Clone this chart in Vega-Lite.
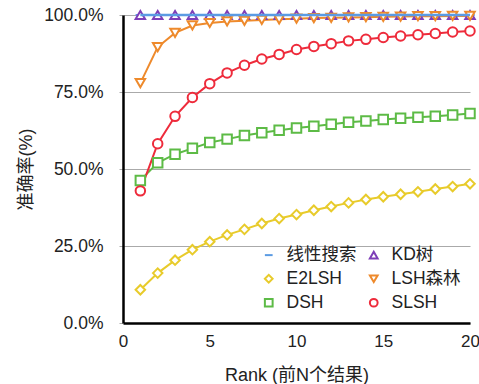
{
  "$schema": "https://vega.github.io/schema/vega-lite/v6.json",
  "width": 347,
  "height": 308,
  "autosize": {"type": "none"},
  "padding": {"left": 123, "top": 15, "right": 9, "bottom": 61},
  "background": "white",
  "config": {
    "font": "Liberation Sans, Noto Sans CJK SC",
    "view": {"stroke": null}
  },
  "data": {
    "values": [
      {"r": 1, "m": "线性搜索", "v": 1.0}, {"r": 2, "m": "线性搜索", "v": 1.0}, {"r": 3, "m": "线性搜索", "v": 1.0}, {"r": 4, "m": "线性搜索", "v": 1.0}, {"r": 5, "m": "线性搜索", "v": 1.0},
      {"r": 6, "m": "线性搜索", "v": 1.0}, {"r": 7, "m": "线性搜索", "v": 1.0}, {"r": 8, "m": "线性搜索", "v": 1.0}, {"r": 9, "m": "线性搜索", "v": 1.0}, {"r": 10, "m": "线性搜索", "v": 1.0},
      {"r": 11, "m": "线性搜索", "v": 1.0}, {"r": 12, "m": "线性搜索", "v": 1.0}, {"r": 13, "m": "线性搜索", "v": 1.0}, {"r": 14, "m": "线性搜索", "v": 1.0}, {"r": 15, "m": "线性搜索", "v": 1.0},
      {"r": 16, "m": "线性搜索", "v": 1.0}, {"r": 17, "m": "线性搜索", "v": 1.0}, {"r": 18, "m": "线性搜索", "v": 1.0}, {"r": 19, "m": "线性搜索", "v": 1.0}, {"r": 20, "m": "线性搜索", "v": 1.0},

      {"r": 1, "m": "KD树", "v": 1.0}, {"r": 2, "m": "KD树", "v": 1.0}, {"r": 3, "m": "KD树", "v": 1.0}, {"r": 4, "m": "KD树", "v": 1.0}, {"r": 5, "m": "KD树", "v": 1.0},
      {"r": 6, "m": "KD树", "v": 1.0}, {"r": 7, "m": "KD树", "v": 1.0}, {"r": 8, "m": "KD树", "v": 1.0}, {"r": 9, "m": "KD树", "v": 1.0}, {"r": 10, "m": "KD树", "v": 1.0},
      {"r": 11, "m": "KD树", "v": 1.0}, {"r": 12, "m": "KD树", "v": 1.0}, {"r": 13, "m": "KD树", "v": 1.0}, {"r": 14, "m": "KD树", "v": 1.0}, {"r": 15, "m": "KD树", "v": 1.0},
      {"r": 16, "m": "KD树", "v": 1.0}, {"r": 17, "m": "KD树", "v": 1.0}, {"r": 18, "m": "KD树", "v": 1.0}, {"r": 19, "m": "KD树", "v": 1.0}, {"r": 20, "m": "KD树", "v": 1.0},

      {"r": 1, "m": "E2LSH", "v": 0.108}, {"r": 2, "m": "E2LSH", "v": 0.162}, {"r": 3, "m": "E2LSH", "v": 0.204}, {"r": 4, "m": "E2LSH", "v": 0.238}, {"r": 5, "m": "E2LSH", "v": 0.264},
      {"r": 6, "m": "E2LSH", "v": 0.286}, {"r": 7, "m": "E2LSH", "v": 0.304}, {"r": 8, "m": "E2LSH", "v": 0.323}, {"r": 9, "m": "E2LSH", "v": 0.339}, {"r": 10, "m": "E2LSH", "v": 0.352},
      {"r": 11, "m": "E2LSH", "v": 0.366}, {"r": 12, "m": "E2LSH", "v": 0.378}, {"r": 13, "m": "E2LSH", "v": 0.390}, {"r": 14, "m": "E2LSH", "v": 0.401}, {"r": 15, "m": "E2LSH", "v": 0.410},
      {"r": 16, "m": "E2LSH", "v": 0.418}, {"r": 17, "m": "E2LSH", "v": 0.426}, {"r": 18, "m": "E2LSH", "v": 0.435}, {"r": 19, "m": "E2LSH", "v": 0.443}, {"r": 20, "m": "E2LSH", "v": 0.452},

      {"r": 1, "m": "LSH森林", "v": 0.779}, {"r": 2, "m": "LSH森林", "v": 0.896}, {"r": 3, "m": "LSH森林", "v": 0.942}, {"r": 4, "m": "LSH森林", "v": 0.966}, {"r": 5, "m": "LSH森林", "v": 0.974},
      {"r": 6, "m": "LSH森林", "v": 0.979}, {"r": 7, "m": "LSH森林", "v": 0.981}, {"r": 8, "m": "LSH森林", "v": 0.984}, {"r": 9, "m": "LSH森林", "v": 0.986}, {"r": 10, "m": "LSH森林", "v": 0.988},
      {"r": 11, "m": "LSH森林", "v": 0.990}, {"r": 12, "m": "LSH森林", "v": 0.991}, {"r": 13, "m": "LSH森林", "v": 0.992}, {"r": 14, "m": "LSH森林", "v": 0.993}, {"r": 15, "m": "LSH森林", "v": 0.994},
      {"r": 16, "m": "LSH森林", "v": 0.995}, {"r": 17, "m": "LSH森林", "v": 0.996}, {"r": 18, "m": "LSH森林", "v": 0.996}, {"r": 19, "m": "LSH森林", "v": 0.997}, {"r": 20, "m": "LSH森林", "v": 0.997},

      {"r": 1, "m": "DSH", "v": 0.463}, {"r": 2, "m": "DSH", "v": 0.520}, {"r": 3, "m": "DSH", "v": 0.548}, {"r": 4, "m": "DSH", "v": 0.567}, {"r": 5, "m": "DSH", "v": 0.586},
      {"r": 6, "m": "DSH", "v": 0.597}, {"r": 7, "m": "DSH", "v": 0.609}, {"r": 8, "m": "DSH", "v": 0.618}, {"r": 9, "m": "DSH", "v": 0.626}, {"r": 10, "m": "DSH", "v": 0.633},
      {"r": 11, "m": "DSH", "v": 0.639}, {"r": 12, "m": "DSH", "v": 0.645}, {"r": 13, "m": "DSH", "v": 0.652}, {"r": 14, "m": "DSH", "v": 0.656}, {"r": 15, "m": "DSH", "v": 0.661},
      {"r": 16, "m": "DSH", "v": 0.665}, {"r": 17, "m": "DSH", "v": 0.668}, {"r": 18, "m": "DSH", "v": 0.671}, {"r": 19, "m": "DSH", "v": 0.675}, {"r": 20, "m": "DSH", "v": 0.680},

      {"r": 1, "m": "SLSH", "v": 0.429}, {"r": 2, "m": "SLSH", "v": 0.582}, {"r": 3, "m": "SLSH", "v": 0.671}, {"r": 4, "m": "SLSH", "v": 0.732}, {"r": 5, "m": "SLSH", "v": 0.777},
      {"r": 6, "m": "SLSH", "v": 0.812}, {"r": 7, "m": "SLSH", "v": 0.837}, {"r": 8, "m": "SLSH", "v": 0.857}, {"r": 9, "m": "SLSH", "v": 0.872}, {"r": 10, "m": "SLSH", "v": 0.888},
      {"r": 11, "m": "SLSH", "v": 0.898}, {"r": 12, "m": "SLSH", "v": 0.907}, {"r": 13, "m": "SLSH", "v": 0.916}, {"r": 14, "m": "SLSH", "v": 0.921}, {"r": 15, "m": "SLSH", "v": 0.927},
      {"r": 16, "m": "SLSH", "v": 0.932}, {"r": 17, "m": "SLSH", "v": 0.936}, {"r": 18, "m": "SLSH", "v": 0.940}, {"r": 19, "m": "SLSH", "v": 0.945}, {"r": 20, "m": "SLSH", "v": 0.948}
    ]
  },
  "encoding": {
    "x": {
      "field": "r",
      "type": "quantitative",
      "scale": {"domain": [0, 20], "nice": false},
      "axis": {
        "title": "Rank (前N个结果)",
        "values": [0, 5, 10, 15, 20],
        "grid": false,
        "ticks": false,
        "domainColor": "#000000",
        "domainWidth": 2.5,
        "labelFontSize": 17,
        "labelColor": "#222222",
        "labelPadding": 10,
        "labelFlush": false,
        "titleFontSize": 18,
        "titleFontWeight": "normal",
        "titleColor": "#222222",
        "titlePadding": 17
      }
    },
    "y": {
      "field": "v",
      "type": "quantitative",
      "scale": {"domain": [0, 1], "nice": false},
      "axis": {
        "title": "准确率(%)",
        "values": [0, 0.25, 0.5, 0.75, 1],
        "format": ".1%",
        "grid": true,
        "gridColor": "#aaaaaa",
        "gridWidth": 1,
        "tickColor": "#aaaaaa",
        "tickSize": 4,
        "domainColor": "#000000",
        "domainWidth": 2.5,
        "labelFontSize": 17.5,
        "labelColor": "#222222",
        "labelPadding": 16,
        "titleFontSize": 18,
        "titleFontWeight": "normal",
        "titleColor": "#222222",
        "titlePadding": 8
      }
    },
    "color": {
      "field": "m",
      "type": "nominal",
      "scale": {
        "domain": ["线性搜索", "E2LSH", "DSH", "KD树", "LSH森林", "SLSH"],
        "range": ["#5b9be3", "#e8cb2b", "#5dbb46", "#7e3fb8", "#ee8a2c", "#ee2b3b"]
      },
      "legend": {
        "title": null,
        "orient": "none",
        "legendX": 137,
        "legendY": 231,
        "columns": 2,
        "labelFontSize": 17.5,
        "labelColor": "#222222",
        "symbolStrokeWidth": 2,
        "symbolSize": 60,
        "labelOffset": 9,
        "rowPadding": 5,
        "columnPadding": 8
      }
    }
  },
  "layer": [
    {
      "mark": {"type": "line", "strokeWidth": 2}
    },
    {
      "mark": {"type": "point", "filled": false, "strokeWidth": 2, "size": 90, "opacity": 1},
      "encoding": {
        "fill": {"value": "white"},
        "shape": {
          "field": "m",
          "type": "nominal",
          "scale": {
            "domain": ["线性搜索", "E2LSH", "DSH", "KD树", "LSH森林", "SLSH"],
            "range": ["stroke", "diamond", "square", "triangle-up", "triangle-down", "circle"]
          }
        }
      }
    },
    {
      "transform": [{"filter": "datum.m === '线性搜索'"}],
      "mark": {"type": "line", "strokeWidth": 2.5},
      "encoding": {"color": {"value": "#5b9be3"}}
    }
  ]
}
